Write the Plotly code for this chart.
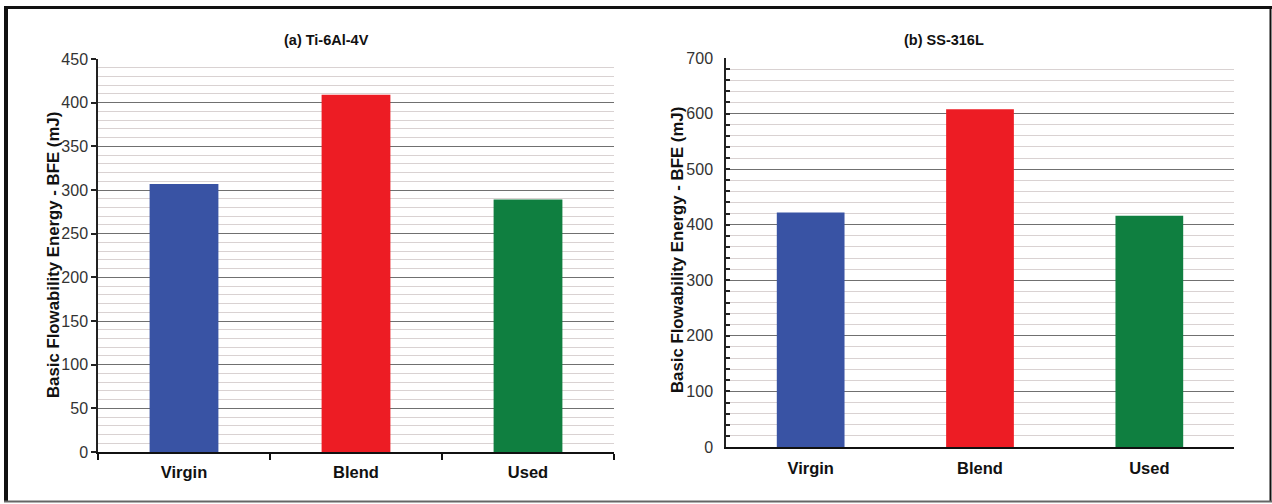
import plotly.graph_objects as go

W, H = 1272, 504

categories = ["Virgin", "Blend", "Used"]
ti_values = [307, 409, 289]
ss_values = [422, 608, 416]
bar_colors = ["#3953a4", "#ed1c24", "#0f7f40"]
title_a = "(a) Ti-6Al-4V"
title_b = "(b) SS-316L"
y_title = "Basic Flowability Energy - BFE (mJ)"

FONT = "Arial, Liberation Sans, sans-serif"

def px_x(x):
    return x / W

def px_y(y):
    return (H - y) / H

fig = go.Figure()
fig.add_trace(go.Bar(x=categories, y=ti_values, marker=dict(color=bar_colors, line=dict(width=0)),
                     xaxis="x", yaxis="y", showlegend=False, hoverinfo="x+y"))
fig.add_trace(go.Bar(x=categories, y=ss_values, marker=dict(color=bar_colors, line=dict(width=0)),
                     xaxis="x2", yaxis="y2", showlegend=False, hoverinfo="x+y"))

major_grid = "#707070"
minor_grid = "#d9d2d2"

fig.update_layout(
    width=W, height=H,
    margin=dict(l=0, r=0, t=0, b=0, autoexpand=False),
    paper_bgcolor="white", plot_bgcolor="white",
    bargap=0.6,
    font=dict(family=FONT, color="#222"),
    xaxis=dict(domain=[px_x(98), px_x(614)], anchor="y", type="category", automargin=False,
               showgrid=False, showline=True, linecolor="#111", linewidth=2,
               ticks="outside", ticklen=6, tickwidth=1.5, tickcolor="#111",
               tickson="boundaries",
               tickfont=dict(size=16.5, family=FONT, color="#111", weight="bold"),
               ticklabelstandoff=4),
    yaxis=dict(domain=[px_y(452), px_y(59)], anchor="x", range=[0, 450], dtick=50, automargin=False,
               showgrid=True, gridcolor=major_grid, gridwidth=1.2,
               showline=True, linecolor="#222", linewidth=1.5,
               ticks="outside", ticklen=5, tickwidth=1.5, tickcolor="#222",
               tickfont=dict(size=16, family=FONT, color="#333"),
               minor=dict(dtick=10, showgrid=True, gridcolor=minor_grid, gridwidth=1),
               zeroline=False),
    xaxis2=dict(domain=[px_x(726), px_x(1234)], anchor="y2", type="category", automargin=False,
                showgrid=False, showline=True, linecolor="#111", linewidth=2,
                ticks="",
                tickfont=dict(size=16.5, family=FONT, color="#111", weight="bold"),
                ticklabelstandoff=5),
    yaxis2=dict(domain=[px_y(447), px_y(58)], anchor="x2", range=[0, 700], dtick=100, automargin=False,
                showgrid=True, gridcolor=major_grid, gridwidth=1.2,
                showline=True, linecolor="#222", linewidth=1.5,
                ticks="inside", ticklen=4, tickwidth=1.5, tickcolor="#222",
                tickfont=dict(size=16, family=FONT, color="#333"),
                ticklabelstandoff=8,
                minor=dict(dtick=20, showgrid=True, gridcolor=minor_grid, gridwidth=1,
                           ticks="inside", ticklen=4, tickcolor="#222"),
                zeroline=False),
)

common = dict(xref="paper", yref="paper", xanchor="center", yanchor="middle", showarrow=False)
annotations = [
    dict(text=title_a, x=px_x(326), y=px_y(40),
         font=dict(size=14.5, family=FONT, color="#111", weight="bold"), **common),
    dict(text=title_b, x=px_x(944), y=px_y(40),
         font=dict(size=14.5, family=FONT, color="#111", weight="bold"), **common),
    dict(text=y_title, x=px_x(53), y=px_y(255), textangle=-90,
         font=dict(size=16.8, family=FONT, color="#111", weight="bold"), **common),
    dict(text=y_title, x=px_x(677), y=px_y(250), textangle=-90,
         font=dict(size=16.8, family=FONT, color="#111", weight="bold"), **common),
]
fig.update_layout(annotations=annotations)

shapes = [
    dict(type="line", xref="paper", yref="paper", x0=px_x(4), x1=px_x(1272), y0=px_y(7.5), y1=px_y(7.5),
         line=dict(color="#111", width=3)),
    dict(type="line", xref="paper", yref="paper", x0=px_x(6), x1=px_x(6), y0=px_y(6), y1=px_y(502),
         line=dict(color="#111", width=4)),
    dict(type="line", xref="paper", yref="paper", x0=px_x(1270.5), x1=px_x(1270.5), y0=px_y(6), y1=px_y(502),
         line=dict(color="#111", width=2)),
    dict(type="line", xref="paper", yref="paper", x0=px_x(4), x1=px_x(1272), y0=px_y(501.5), y1=px_y(501.5),
         line=dict(color="#666", width=2)),
]
fig.update_layout(shapes=shapes)

post = ("document.body.style.margin='0';"
        "document.documentElement.style.overflow='hidden';")

fig.write_html("out.html", config={"displayModeBar": False}, post_script=post)
